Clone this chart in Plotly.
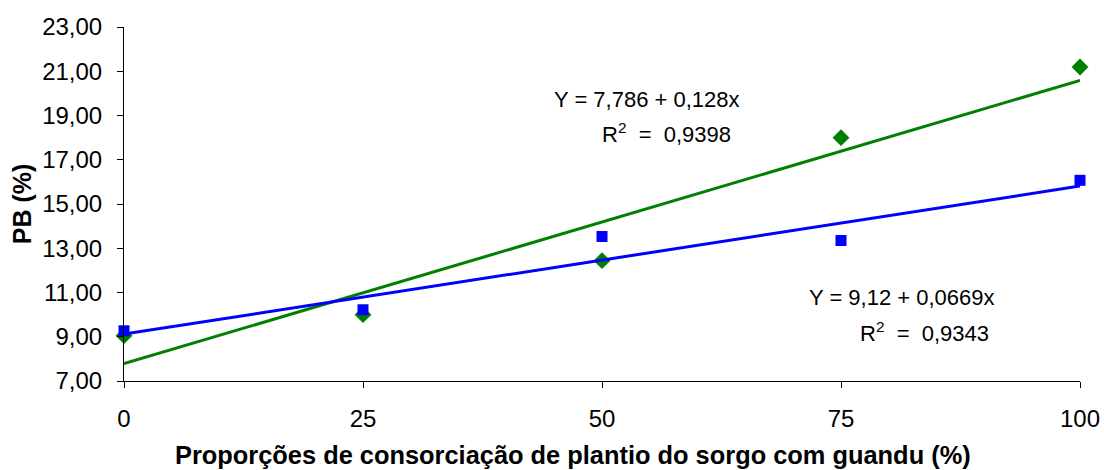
import plotly.graph_objects as go

# Data
x_props = [0, 25, 50, 75, 100]
pb_blue = [9.27, 10.22, 13.53, 13.35, 16.07]
pb_green = [9.05, 10.00, 12.44, 18.00, 21.19]

# Trend equations (from the chart labels)
blue_a, blue_b = 9.12, 0.0669
green_a, green_b = 7.786, 0.128
trend_x = [0, 100]

y_ticks = [7, 9, 11, 13, 15, 17, 19, 21, 23]
y_tick_text = ["7,00", "9,00", "11,00", "13,00", "15,00", "17,00", "19,00", "21,00", "23,00"]
x_ticks = [0, 25, 50, 75, 100]

BLUE = "#0000FF"
GREEN = "#008000"
FONT = "Liberation Sans, Arial, sans-serif"

fig = go.Figure()

fig.add_trace(go.Scatter(x=x_props, y=pb_green, mode="markers",
                         marker=dict(symbol="diamond", size=13, color=GREEN),
                         cliponaxis=False, showlegend=False))
fig.add_trace(go.Scatter(x=x_props, y=pb_blue, mode="markers",
                         marker=dict(symbol="square", size=11, color=BLUE),
                         cliponaxis=False, showlegend=False))
fig.add_trace(go.Scatter(x=trend_x, y=[green_a + green_b * v for v in trend_x], mode="lines",
                         line=dict(color=GREEN, width=3), cliponaxis=False, showlegend=False))
fig.add_trace(go.Scatter(x=trend_x, y=[blue_a + blue_b * v for v in trend_x], mode="lines",
                         line=dict(color=BLUE, width=3), cliponaxis=False, showlegend=False))

ann_font = dict(family=FONT, size=22, color="black")
labels = [
    (54.7, 19.74, "Y = 7,786 + 0,128x"),
    (56.75, 18.20, "R<sup>2</sup>&nbsp; = &nbsp;0,9398"),
    (81.4, 10.76, "Y = 9,12 + 0,0669x"),
    (83.7, 9.22, "R<sup>2</sup>&nbsp; = &nbsp;0,9343"),
]
for lx, ly, lt in labels:
    fig.add_annotation(x=lx, y=ly, xref="x", yref="y", showarrow=False,
                       text=lt, font=ann_font, align="center")

# x-axis title (placed as annotation to match the reference's offset)
fig.add_annotation(x=0.4697, y=-0.209, xref="paper", yref="paper", showarrow=False,
                   text="<b>Proporções de consorciação de plantio do sorgo com guandu (%)</b>",
                   font=dict(family=FONT, size=25.4, color="black"),
                   xanchor="center", yanchor="middle")

fig.update_layout(
    width=1104, height=470,
    margin=dict(l=124, r=24, t=27, b=89),
    paper_bgcolor="white", plot_bgcolor="white",
    font=dict(family=FONT, color="black"),
    xaxis=dict(range=[0, 100], tickvals=x_ticks, ticks="outside", ticklen=6,
               tickcolor="black", showline=True, linecolor="black", linewidth=1,
               showgrid=False, zeroline=False, automargin=False,
               ticklabelstandoff=10,
               tickfont=dict(family=FONT, size=24, color="black")),
    yaxis=dict(range=[7, 23], tickvals=y_ticks, ticktext=y_tick_text, ticks="outside",
               ticklen=6, tickcolor="black", showline=True, linecolor="black", linewidth=1,
               showgrid=False, zeroline=False, automargin=False,
               ticklabelstandoff=10,
               tickfont=dict(family=FONT, size=24, color="black"),
               title=dict(text="<b>PB (%)</b>", font=dict(family=FONT, size=25, color="black"),
                          standoff=3)),
)

fig.write_html("out.html", config={"displayModeBar": False},
               post_script="document.body.style.margin='0';document.body.style.overflow='hidden';")
